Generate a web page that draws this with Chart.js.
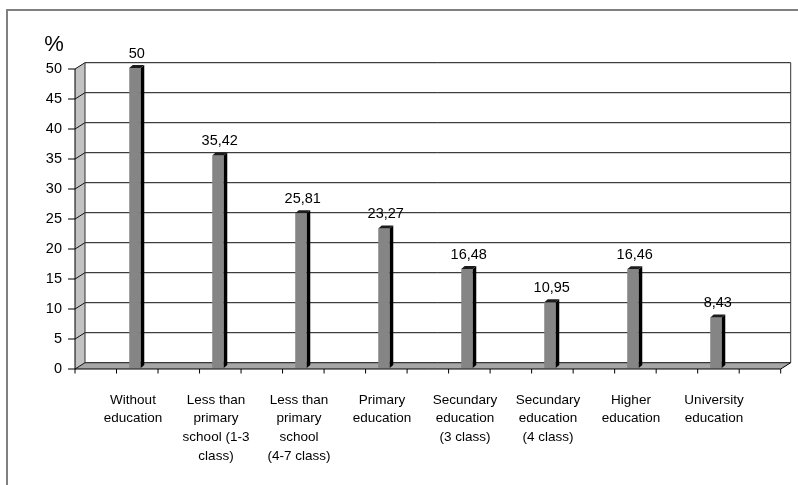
<!DOCTYPE html>
<html>
<head>
<meta charset="utf-8">
<script src="https://cdn.jsdelivr.net/npm/chart.js@4/dist/chart.umd.min.js"></script>
<style>
  html, body { margin: 0; padding: 0; background: #ffffff; }
  #wrap { width: 798px; height: 485px; position: relative; }
</style>
</head>
<body>
<div id="wrap"><canvas id="c" width="798" height="485"></canvas></div>
<script>
// Education level categories (each entry is the wrapped label lines)
const categories = [
  ['Without', 'education'],
  ['Less than', 'primary', 'school (1-3', 'class)'],
  ['Less than', 'primary', 'school', '(4-7 class)'],
  ['Primary', 'education'],
  ['Secundary', 'education', '(3 class)'],
  ['Secundary', 'education', '(4 class)'],
  ['Higher', 'education'],
  ['University', 'education']
];
// Share per education level, in percent
const shares = [50, 35.42, 25.81, 23.27, 16.48, 10.95, 16.46, 8.43];
// Value axis ticks
const yTicks = [0, 5, 10, 15, 20, 25, 30, 35, 40, 45, 50];
const axisTitle = '%';

const FONT = "'Liberation Sans', Arial, sans-serif";
// Pseudo-3D box: the back wall sits DX right and DY up from the front edge
const DX = 10, DY = 6.3;
// Bar side/top face offset
const SX = 3.5, SY = 3;
const X_TICK_COUNT = 18;

const fmt = v => String(v).replace('.', ',');

const box3d = {
  id: 'box3d',
  beforeDraw(chart) {
    const ctx = chart.ctx;
    const y = chart.scales.y;
    const area = chart.chartArea;
    const X0 = area.left - 18.5;           // front axis
    const X1 = area.right + 23.2;          // front right end of the floor
    const yF = v => y.getPixelForValue(v) + 1;
    const yB = v => y.getPixelForValue(v) - 5.3;
    const top = y.max, bot = y.min;

    ctx.save();
    // outer chart frame
    ctx.strokeStyle = '#808080';
    ctx.lineWidth = 2;
    ctx.strokeRect(7, 10, 800, 500);

    // back wall
    ctx.fillStyle = '#ffffff';
    ctx.fillRect(X0 + DX, yB(top), X1 - X0, yB(bot) - yB(top));

    // left side wall
    ctx.fillStyle = '#c2c2c2';
    ctx.beginPath();
    ctx.moveTo(X0, yF(bot));
    ctx.lineTo(X0, yF(top));
    ctx.lineTo(X0 + DX, yB(top));
    ctx.lineTo(X0 + DX, yB(bot));
    ctx.closePath();
    ctx.fill();

    // floor
    ctx.fillStyle = '#a6a6a6';
    ctx.beginPath();
    ctx.moveTo(X0, yF(bot));
    ctx.lineTo(X1, yF(bot));
    ctx.lineTo(X1 + DX, yB(bot));
    ctx.lineTo(X0 + DX, yB(bot));
    ctx.closePath();
    ctx.fill();

    // gridlines across side wall and back wall
    ctx.strokeStyle = '#111111';
    ctx.lineWidth = 1;
    yTicks.forEach(v => {
      ctx.beginPath();
      ctx.moveTo(X0, yF(v));
      ctx.lineTo(X0 + DX, yB(v));
      ctx.lineTo(X1 + DX, yB(v));
      ctx.stroke();
    });

    // wall outlines
    ctx.strokeStyle = '#333333';
    ctx.beginPath();
    ctx.moveTo(X0 + DX, yB(bot));
    ctx.lineTo(X0 + DX, yB(top));
    ctx.moveTo(X1 + DX, yB(top));
    ctx.lineTo(X1 + DX, yB(bot));
    ctx.stroke();

    // floor front edge and right edge
    ctx.strokeStyle = '#000000';
    ctx.beginPath();
    ctx.moveTo(X0, yF(bot));
    ctx.lineTo(X1, yF(bot));
    ctx.lineTo(X1 + DX, yB(bot));
    ctx.stroke();

    // front value axis with ticks
    ctx.beginPath();
    ctx.moveTo(X0, yF(bot));
    ctx.lineTo(X0, yF(top));
    yTicks.forEach(v => {
      ctx.moveTo(X0 - 7, yF(v));
      ctx.lineTo(X0, yF(v));
    });
    ctx.stroke();

    // category axis tick marks
    ctx.beginPath();
    for (let i = 0; i < X_TICK_COUNT; i++) {
      const x = X0 + (X1 - X0) * i / (X_TICK_COUNT - 1);
      ctx.moveTo(x, yF(bot));
      ctx.lineTo(x, yF(bot) + 4.5);
    }
    ctx.stroke();

    // value axis labels
    ctx.fillStyle = '#000000';
    ctx.font = '14.5px ' + FONT;
    ctx.textAlign = 'right';
    ctx.textBaseline = 'middle';
    yTicks.forEach(v => ctx.fillText(String(v), X0 - 13, yF(v)));

    // axis title
    ctx.font = '22px ' + FONT;
    ctx.textAlign = 'center';
    ctx.fillText(axisTitle, X0 - 21, yF(top) - 24);

    // category labels
    const xs = chart.scales.x;
    ctx.font = '13.5px ' + FONT;
    ctx.textBaseline = 'middle';
    categories.forEach((lines, i) => {
      const cx = xs.getPixelForValue(i) - 2;
      lines.forEach((t, k) => ctx.fillText(t, cx, yF(bot) + 31 + k * 18.6));
    });
    ctx.restore();
  },
  afterDatasetsDraw(chart) {
    const ctx = chart.ctx;
    const meta = chart.getDatasetMeta(0);
    ctx.save();
    meta.data.forEach((bar, i) => {
      const p = bar.getProps(['x', 'y', 'base', 'width'], true);
      const left = p.x - p.width / 2, right = p.x + p.width / 2;
      // right side face
      ctx.fillStyle = '#000000';
      ctx.beginPath();
      ctx.moveTo(right, p.y);
      ctx.lineTo(right + SX, p.y - SY);
      ctx.lineTo(right + SX, p.base - SY);
      ctx.lineTo(right, p.base);
      ctx.closePath();
      ctx.fill();
      // top face
      ctx.fillStyle = '#1c1c1c';
      ctx.beginPath();
      ctx.moveTo(left, p.y);
      ctx.lineTo(left + SX, p.y - SY);
      ctx.lineTo(right + SX, p.y - SY);
      ctx.lineTo(right, p.y);
      ctx.closePath();
      ctx.fill();
      // value label
      ctx.fillStyle = '#000000';
      ctx.font = '14.5px ' + FONT;
      ctx.textAlign = 'center';
      ctx.textBaseline = 'middle';
      ctx.fillText(fmt(shares[i]), p.x + SX / 2, p.y - 14.5);
    });
    ctx.restore();
  }
};

new Chart(document.getElementById('c'), {
  type: 'bar',
  data: {
    labels: categories.map(l => l.join(' ')),
    datasets: [{
      data: shares,
      backgroundColor: '#858585',
      borderWidth: 0,
      categoryPercentage: 1,
      barPercentage: 0.139
    }]
  },
  options: {
    responsive: false,
    animation: false,
    devicePixelRatio: 1,
    layout: { padding: { left: 93.5, right: 40.5, top: 68, bottom: 117 } },
    plugins: { legend: { display: false }, tooltip: { enabled: false } },
    scales: {
      x: { display: false },
      y: { display: false, min: 0, max: 50 }
    }
  },
  plugins: [box3d]
});
</script>
</body>
</html>
